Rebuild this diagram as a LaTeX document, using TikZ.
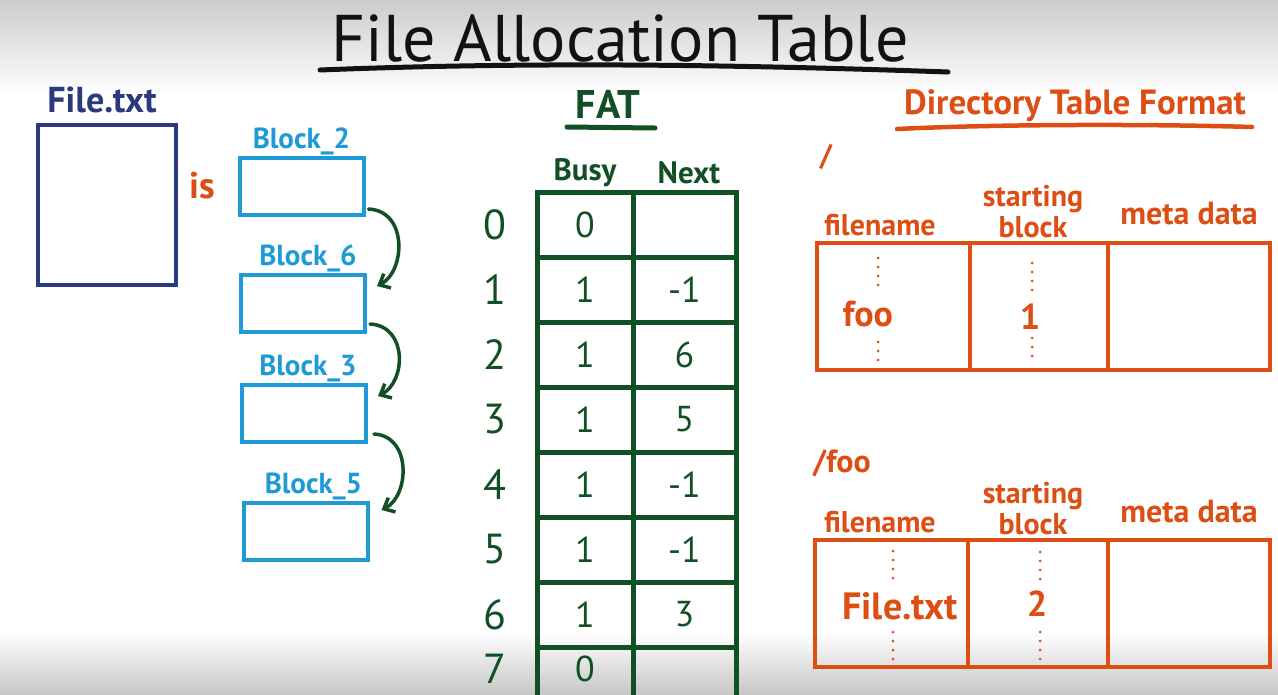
\documentclass[tikz,border=0pt]{standalone}
\usepackage{fontspec}
\setmainfont{PT Sans}
\usetikzlibrary{positioning,calc,arrows.meta}
\definecolor{ink}{HTML}{121212}
\definecolor{navy}{HTML}{2B3A7E}
\definecolor{blkcyan}{HTML}{1E9BD7}
\definecolor{fatgreen}{HTML}{114F24}
\definecolor{dirorange}{HTML}{DD4E14}
\begin{document}
\begin{tikzpicture}[
      x=1pt, y=-1pt,
      txt/.style={inner sep=0pt, font=\bfseries},
      box/.style={draw, line width=4pt, inner sep=0pt},
      filebox/.style={box, draw=navy, minimum width=138pt, minimum height=160pt},
      blk/.style={box, draw=blkcyan, minimum width=124pt, minimum height=57pt},
      blklbl/.style={txt, text=blkcyan, font=\bfseries\fontsize{29}{29}\selectfont},
      cell/.style={draw=fatgreen, line width=5pt, minimum height=65pt, inner sep=0pt},
      val/.style={txt, text=fatgreen, font=\fontsize{36}{36}\selectfont},
      dcell/.style={draw=dirorange, line width=4.5pt, minimum height=127pt, inner sep=0pt},
      dhead/.style={txt, text=dirorange, font=\bfseries\fontsize{30}{30}\selectfont},
      flow/.style={draw=fatgreen, line width=3.5pt, line cap=round,
                   -{Straight Barb[length=9pt,width=16pt]}},
      dots/.style={draw=dirorange, line width=3pt, line cap=round,
                   dash pattern=on 0pt off 9pt},
      ]
      \clip (0,0) rectangle (1278,694);
      % board fades
      \fill[top color=black!20, bottom color=white] (0,0) rectangle (1278,95);
      \fill[top color=white, bottom color=black!22] (0,632) rectangle (1278,694);

      % title
      \node[txt, text=ink, font=\fontsize{66}{66}\selectfont] (title) at (620,38) {File Allocation Table};
      \draw[ink, line width=5pt, line cap=round] (320,70) .. controls (520,62) and (720,64) .. (948,72);

      % the file and its blocks
      \node[filebox] (file) at (107,205) {};
      \node[txt, text=navy, font=\bfseries\fontsize{36}{36}\selectfont] (filelbl) at (102,100) {File.txt};
      \node[txt, text=dirorange, font=\bfseries\fontsize{37}{37}\selectfont] (is) at (202,186) {is};

      \node[blk] (b2) at (301.5,186.5) {};
      \node[blk] (b6) at (303,303.5) {};
      \node[blk] (b3) at (304,413.5) {};
      \node[blk] (b5) at (305.5,531.5) {};
      \node[blklbl, above=1pt of b2] (l2) {Block\_2};
      \node[blklbl, above=1pt of b6, xshift=5pt] (l6) {Block\_6};
      \node[blklbl, above=1pt of b3, xshift=4pt] (l3) {Block\_3};
      \node[blklbl, above=1pt of b5, xshift=8pt] (l5) {Block\_5};

      \draw[flow] ($(b2.south east)+(3,-8)$) .. controls +(40,2) and +(28,-14) .. ($(b6.north east)+(10,13)$);
      \draw[flow] ($(b6.south east)+(3,-10)$) .. controls +(38,2) and +(28,-14) .. ($(b3.north east)+(10,13)$);
      \draw[flow] ($(b3.south east)+(6,-10)$) .. controls +(38,2) and +(28,-14) .. ($(b5.north east)+(12,9)$);

      % FAT
      \node[txt, text=fatgreen, font=\bfseries\fontsize{40}{40}\selectfont] (fat) at (608,104) {FAT};
      \draw[fatgreen, line width=5pt, line cap=round] (567,127) -- (655,128);
      \node[txt, text=fatgreen, font=\bfseries\fontsize{31}{31}\selectfont] (busy) at (585,173) {Busy};
      \node[txt, text=fatgreen, font=\bfseries\fontsize{31}{31}\selectfont] (next) at (689,173) {Next};
      \foreach \b/\n [count=\r from 0] in {0/{},1/-1,1/6,1/5,1/-1,1/-1,1/3,0/{}} {
        \node[cell, minimum width=96pt] (busy\r) at (585,224.5+65*\r) {};
        \node[cell, minimum width=103pt] (next\r) at (684.5,224.5+65*\r) {};
        \pgfmathsetmacro\vy{\r<7 ? 224.5+65*\r : 669}
        \node[val] (bv\r) at (585,\vy) {\b};
        \node[val] (nv\r) at (684.5,\vy) {\n};
        \node[val, font=\fontsize{42}{42}\selectfont] (idx\r) at (495,\vy) {\r};
      }

      % directory tables
      \node[txt, text=dirorange, font=\bfseries\fontsize{35}{35}\selectfont] (dirtitle) at (1075,106) {Directory Table Format};
      \draw[dirorange, line width=4.5pt, line cap=round] (897,129) .. controls (1000,124) and (1150,124) .. (1252,127);

      \node[txt, text=dirorange, font=\bfseries\fontsize{30}{30}\selectfont] (root) at (826,157) {/};
      \node[dcell, minimum width=153pt] (fn1) at (893.5,306.5) {};
      \node[dcell, minimum width=138pt] (sb1) at (1039,306.5) {};
      \node[dcell, minimum width=162pt] (md1) at (1189,306.5) {};
      \node[dhead] (fh1) at (880,225) {filename};
      \node[dhead] (sh1) at (1033,199) {starting};
      \node[dhead] (bh1) at (1033,227) {block};
      \node[dhead, font=\bfseries\fontsize{32}{32}\selectfont] (mh1) at (1189,214) {meta data};
      \node[txt, text=dirorange, font=\bfseries\fontsize{36}{36}\selectfont] (foo) at (868,314) {foo};
      \node[txt, text=dirorange, font=\bfseries\fontsize{36}{36}\selectfont] (one) at (1030,317) {1};
      \draw[dots] (878,258) -- (878,290);
      \draw[dots] (878,342) -- (878,360);
      \draw[dots] (1032,263) -- (1032,290);
      \draw[dots] (1032,338) -- (1032,362);

      \node[txt, text=dirorange, font=\bfseries\fontsize{32}{32}\selectfont] (sub) at (842,463) {/foo};
      \node[dcell, minimum width=153pt] (fn2) at (891.5,603.5) {};
      \node[dcell, minimum width=140pt] (sb2) at (1038,603.5) {};
      \node[dcell, minimum width=162pt] (md2) at (1189,603.5) {};
      \node[dhead] (fh2) at (880,522) {filename};
      \node[dhead] (sh2) at (1033,496) {starting};
      \node[dhead] (bh2) at (1033,524) {block};
      \node[dhead, font=\bfseries\fontsize{32}{32}\selectfont] (mh2) at (1189,512) {meta data};
      \node[txt, text=dirorange, font=\bfseries\fontsize{38}{38}\selectfont] (ftxt) at (900,606) {File.txt};
      \node[txt, text=dirorange, font=\bfseries\fontsize{36}{36}\selectfont] (two) at (1037,604) {2};
      \draw[dots] (893,551) -- (893,585);
      \draw[dots] (893,632) -- (893,662);
      \draw[dots] (1040,552) -- (1040,585);
      \draw[dots] (1040,632) -- (1040,660);
    \end{tikzpicture}
\end{document}
